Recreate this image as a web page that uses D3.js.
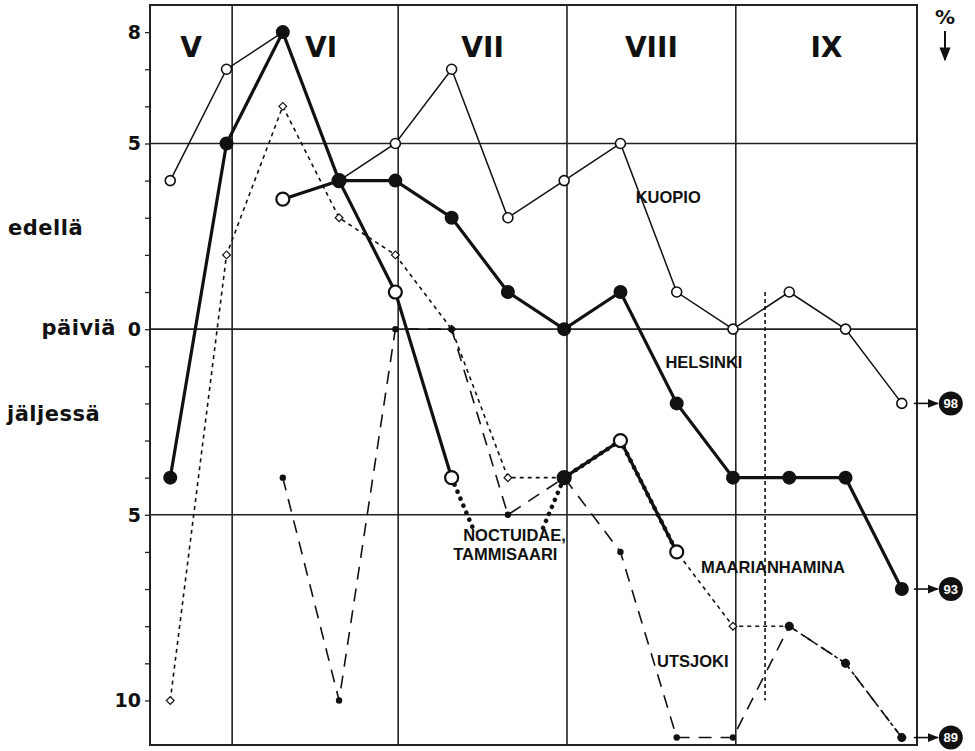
<!DOCTYPE html>
<html>
<head>
<meta charset="utf-8">
<script src="https://cdn.jsdelivr.net/npm/d3@7"></script>
<style>
  html, body { margin: 0; padding: 0; background: #fff; }
  svg text { fill: #111; }
</style>
</head>
<body>
<svg id="chart" width="975" height="751"></svg>
<script>
// periods: ten-day steps from mid-May to end of September
const periods = d3.range(14);
const months = ['V', 'VI', 'VII', 'VIII', 'IX'];
const monthEdges = [-0.36, 1.1, 4.05, 7.05, 10.05, 13.27];
const yTicks = [8, 5, 0, -5, -10];
const yMinor = d3.range(-10, 9);
const gridValues = [5, 0, -5];

// days ahead (+) / behind (-)
const kuopio        = [4, 7, 8, 4, 5, 7, 3, 4, 5, 1, 0, 1, 0, -2];
const helsinki      = [-4, 5, 8, 4, 4, 3, 1, 0, 1, -2, -4, -4, -4, -7];
const maarianhamina = [null, null, 3.5, 4, 1, -4, null, -4, -3, -6, null, null, null, null];
const maarianBreak  = [null, null, null, null, null, -4, -7.6, -4, -3, -6, null, null, null, null];
const noctuidae     = [-10, 2, 6, 3, 2, 0, -4, -4, -3, -6, -8, -8, -9, -11];
const utsjoki       = [null, null, -4, -10, 0, 0, -5, -4, -6, -11, -11, -8, -9, -11];
const markerLine    = { at: 10.57, from: 1, to: -10 };

const endPercents = [
  { series: kuopio, pct: '98' },
  { series: helsinki, pct: '93' },
  { series: noctuidae, pct: '89' },
];

const seriesLabels = [
  { text: 'KUOPIO', i: 8.27, v: 3.55 },
  { text: 'HELSINKI', i: 8.8, v: -0.9 },
  { text: 'MAARIANHAMINA', i: 9.43, v: -6.4 },
  { text: 'UTSJOKI', i: 8.65, v: -8.95 },
];

const svg = d3.select('#chart');
const L = 150, R = 917, T = 5, B = 745;

const x = d3.scaleLinear().domain([monthEdges[0], monthEdges[5]]).range([L, R]);
const y = d3.scaleLinear().domain([-11.2, 8.73]).range([B, T]);

const SANS = '"DejaVu Sans", sans-serif';
const ARIAL = '"Liberation Sans", Arial, sans-serif';

// ── Frame, grid, month dividers ───────────────────────────────────────────────

const grid = svg.append('g').attr('stroke', '#222').attr('fill', 'none');
grid.append('rect').attr('x', L).attr('y', T).attr('width', R - L).attr('height', B - T)
  .attr('stroke-width', 2);
grid.selectAll('line.h').data(gridValues).enter().append('line')
  .attr('x1', L).attr('x2', R).attr('y1', d => y(d)).attr('y2', d => y(d))
  .attr('stroke-width', 1.6);
grid.selectAll('line.v').data(monthEdges.slice(1, 5)).enter().append('line')
  .attr('x1', d => x(d)).attr('x2', d => x(d)).attr('y1', T).attr('y2', B)
  .attr('stroke-width', 1.6);

// y axis with every-day ticks, labels as absolute days
const yAxis = d3.axisLeft(y).tickValues(yMinor).tickSize(5).tickFormat(() => '');
const ax = svg.append('g').attr('transform', `translate(${L},0)`).call(yAxis);
ax.select('.domain').remove();
ax.selectAll('line').attr('stroke', '#222').attr('stroke-width', 1.3);

svg.selectAll('text.ytick').data(yTicks).enter().append('text')
  .attr('x', L - 9).attr('y', d => y(d)).attr('dy', '0.36em')
  .attr('text-anchor', 'end').attr('font-family', SANS).attr('font-weight', 'bold')
  .attr('font-size', 19).text(d => Math.abs(d));

// side words
const sideWords = [
  { t: 'edellä', v: 2.7, anchor: 'start', xPos: 8 },
  { t: 'päiviä', v: 0, anchor: 'end', xPos: 116 },
  { t: 'jäljessä', v: -2.3, anchor: 'start', xPos: 7 },
];
svg.selectAll('text.side').data(sideWords).enter().append('text')
  .attr('x', d => d.xPos).attr('y', d => y(d.v)).attr('dy', '0.3em')
  .attr('text-anchor', d => d.anchor).attr('font-family', SANS).attr('font-weight', 'bold')
  .attr('font-size', 21).attr('letter-spacing', 0.5).text(d => d.t);

// month labels
svg.selectAll('text.month').data(months).enter().append('text')
  .attr('x', (d, i) => (x(monthEdges[i]) + x(monthEdges[i + 1])) / 2 + (i === 1 ? 6 : 0))
  .attr('y', 57).attr('text-anchor', 'middle')
  .attr('font-family', SANS).attr('font-weight', 'bold').attr('font-size', 28).text(d => d);

// percent header with arrow
svg.append('text').attr('x', 945).attr('y', 24).attr('text-anchor', 'middle')
  .attr('font-family', SANS).attr('font-weight', 'bold').attr('font-size', 20).text('%');
svg.append('defs').append('marker').attr('id', 'ah').attr('viewBox', '0 0 10 10')
  .attr('refX', 9).attr('refY', 5).attr('markerWidth', 7).attr('markerHeight', 7)
  .attr('orient', 'auto-start-reverse')
  .append('path').attr('d', 'M0,1 L10,5 L0,9 Z').attr('fill', '#111');
svg.append('line').attr('x1', 945).attr('x2', 945).attr('y1', 31).attr('y2', 60)
  .attr('stroke', '#111').attr('stroke-width', 2).attr('marker-end', 'url(#ah)');

// marker line (short dashed vertical)
svg.append('line')
  .attr('x1', x(markerLine.at)).attr('x2', x(markerLine.at))
  .attr('y1', y(markerLine.from)).attr('y2', y(markerLine.to))
  .attr('stroke', '#111').attr('stroke-width', 1.6).attr('stroke-dasharray', '4,3');

// ── Lines ─────────────────────────────────────────────────────────────────────

const line = d3.line().defined(d => d != null).x((d, i) => x(i)).y(d => y(d));

// mask hiding the broken segment under the label
const mask = svg.select('defs').append('mask').attr('id', 'breakMask');
mask.append('rect').attr('x', 0).attr('y', 0).attr('width', 975).attr('height', 751).attr('fill', '#fff');
mask.append('rect').attr('x', x(5.25)).attr('y', y(-5.45))
  .attr('width', x(6.75) - x(5.25)).attr('height', B - y(-5.45)).attr('fill', '#000');

svg.append('path').datum(noctuidae).attr('d', line)
  .attr('fill', 'none').attr('stroke', '#111').attr('stroke-width', 1.6)
  .attr('stroke-dasharray', '4,4');

svg.append('path').datum(utsjoki).attr('d', line)
  .attr('fill', 'none').attr('stroke', '#111').attr('stroke-width', 1.6)
  .attr('stroke-dasharray', '13,9');

svg.append('path').datum(kuopio).attr('d', line)
  .attr('fill', 'none').attr('stroke', '#111').attr('stroke-width', 1.5);

svg.append('path').datum(maarianhamina).attr('d', line)
  .attr('fill', 'none').attr('stroke', '#111').attr('stroke-width', 3.2);

svg.append('path').datum(maarianBreak).attr('d', line)
  .attr('mask', 'url(#breakMask)')
  .attr('fill', 'none').attr('stroke', '#111').attr('stroke-width', 4.5)
  .attr('stroke-linecap', 'round').attr('stroke-dasharray', '0.1,7.5');

svg.append('path').datum(helsinki).attr('d', line)
  .attr('fill', 'none').attr('stroke', '#111').attr('stroke-width', 3.2);

// ── Markers ───────────────────────────────────────────────────────────────────

const pts = arr => arr.map((v, i) => ({ i, v })).filter(d => d.v != null);

svg.selectAll('path.diam').data(pts(noctuidae)).enter().append('path')
  .attr('d', d3.symbol(d3.symbolSquare, 30))
  .attr('transform', d => `translate(${x(d.i)},${y(d.v)}) rotate(45)`)
  .attr('fill', '#fff').attr('stroke', '#111').attr('stroke-width', 1.2);

svg.selectAll('circle.uts').data(pts(utsjoki)).enter().append('circle')
  .attr('cx', d => x(d.i)).attr('cy', d => y(d.v)).attr('r', d => d.i >= 11 ? 4.5 : 3.2)
  .attr('fill', '#111');

svg.selectAll('circle.kuo').data(pts(kuopio)).enter().append('circle')
  .attr('cx', d => x(d.i)).attr('cy', d => y(d.v)).attr('r', 5)
  .attr('fill', '#fff').attr('stroke', '#111').attr('stroke-width', 1.6);

svg.selectAll('circle.maa').data(pts(maarianhamina)).enter().append('circle')
  .attr('cx', d => x(d.i)).attr('cy', d => y(d.v)).attr('r', 6.5)
  .attr('fill', d => d.i === 7 ? '#111' : '#fff').attr('stroke', '#111').attr('stroke-width', 2.2);

svg.selectAll('circle.hel').data(pts(helsinki)).enter().append('circle')
  .attr('cx', d => x(d.i)).attr('cy', d => y(d.v)).attr('r', 7)
  .attr('fill', '#111');

// ── Labels ────────────────────────────────────────────────────────────────────

svg.selectAll('text.slab').data(seriesLabels).enter().append('text')
  .attr('x', d => x(d.i)).attr('y', d => y(d.v)).attr('dy', '0.35em')
  .attr('font-family', ARIAL).attr('font-weight', 'bold').attr('font-size', 16.5)
  .text(d => d.text);

const noct = svg.append('text').attr('font-family', ARIAL).attr('font-weight', 'bold')
  .attr('font-size', 16.5).attr('text-anchor', 'end');
noct.append('tspan').attr('x', x(7.03)).attr('y', y(-5.55)).attr('dy', '0.35em').text('NOCTUIDAE,');
noct.append('tspan').attr('x', x(6.88)).attr('y', y(-6.05)).attr('dy', '0.35em').text('TAMMISAARI');

// end arrows with percentages
const ends = svg.selectAll('g.end').data(endPercents).enter().append('g')
  .attr('transform', d => `translate(${x(13)},${y(d.series[13])})`);
ends.append('line').attr('x1', 12).attr('x2', 36).attr('y1', 0).attr('y2', 0)
  .attr('stroke', '#111').attr('stroke-width', 1.6).attr('marker-end', 'url(#ah)');
ends.append('circle').attr('cx', 49).attr('cy', 0).attr('r', 12).attr('fill', '#111');
ends.append('text').attr('x', 49).attr('y', 0).attr('dy', '0.36em').attr('text-anchor', 'middle')
  .attr('font-family', ARIAL).attr('font-weight', 'bold').attr('font-size', 13)
  .style('fill', '#fff').text(d => d.pct);
</script>
</body>
</html>
